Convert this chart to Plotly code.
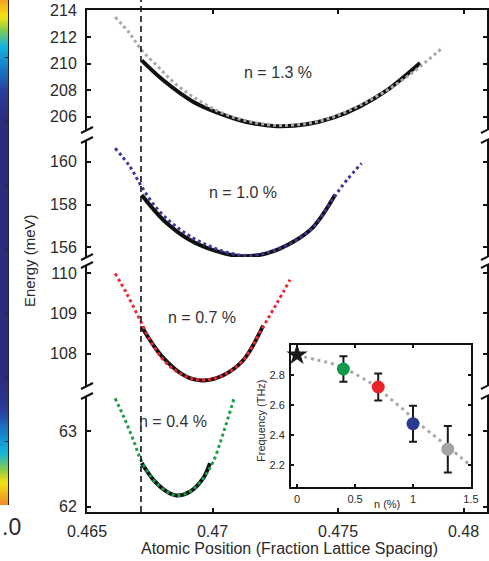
import plotly.graph_objects as go

# ---------------- data ----------------
# n = 1.3 %
x13_fit = [0.46612, 0.46671, 0.46718, 0.46778, 0.46844, 0.46924, 0.47030, 0.47136, 0.47256, 0.47375, 0.47481, 0.47588, 0.47694, 0.47800, 0.47919]
e13_fit = [213.5, 212.25, 211.0, 209.86, 208.61, 207.48, 206.35, 205.68, 205.35, 205.48, 205.98, 206.86, 207.98, 209.36, 211.24]
x13_dft = [0.46718, 0.46804, 0.46924, 0.47030, 0.47136, 0.47256, 0.47375, 0.47481, 0.47588, 0.47694, 0.47827]
e13_dft = [210.24, 208.74, 207.11, 206.23, 205.60, 205.28, 205.43, 205.93, 206.78, 207.98, 210.05]

# n = 1.0 %
x10_fit = [0.46612, 0.46671, 0.46718, 0.46778, 0.46857, 0.46963, 0.47110, 0.47216, 0.47322, 0.47402, 0.47481, 0.47535, 0.47594]
e10_fit = [160.63, 159.77, 158.83, 157.82, 156.96, 156.19, 155.64, 155.75, 156.26, 156.96, 158.29, 159.14, 159.92]
x10_dft = [0.46718, 0.46804, 0.46910, 0.47003, 0.47110, 0.47216, 0.47322, 0.47402, 0.47488]
e10_dft = [158.44, 157.28, 156.34, 155.87, 155.59, 155.72, 156.26, 156.96, 158.44]

# n = 0.7 %
x07_fit = [0.46612, 0.46658, 0.46711, 0.46758, 0.46818, 0.46897, 0.46963, 0.47043, 0.47123, 0.47202, 0.47256, 0.47309]
e07_fit = [110.0, 109.5, 108.84, 108.26, 107.75, 107.42, 107.34, 107.46, 107.84, 108.67, 109.25, 109.84]
x07_dft = [0.46718, 0.46800, 0.46897, 0.46963, 0.47043, 0.47123, 0.47202]
e07_dft = [108.67, 107.92, 107.42, 107.33, 107.46, 107.84, 108.70]

# n = 0.4 %
x04_fit = [0.46612, 0.46651, 0.46684, 0.46718, 0.46764, 0.46818, 0.46857, 0.46910, 0.46963, 0.47003, 0.47043, 0.47086]
e04_fit = [63.44, 63.16, 62.89, 62.60, 62.36, 62.20, 62.15, 62.20, 62.38, 62.60, 62.98, 63.44]
x04_dft = [0.46718, 0.46764, 0.46818, 0.46857, 0.46910, 0.46963, 0.46990]
e04_dft = [62.58, 62.36, 62.20, 62.15, 62.20, 62.38, 62.58]

x_dashed = 0.46715

# inset
n_pts = [0.4, 0.7, 1.0, 1.3]
f_pts = [2.84, 2.72, 2.475, 2.305]
f_err = [0.085, 0.09, 0.12, 0.155]
pt_colors = ["#12994a", "#e8232c", "#2b3a8f", "#a3a3a3"]
n_star = [0.0]
f_star = [2.933]
n_fitcurve = [0.0, 0.17, 0.34, 0.54, 0.69, 0.80, 0.92, 1.03, 1.15, 1.32, 1.49]
f_fitcurve = [2.933, 2.90, 2.867, 2.79, 2.718, 2.645, 2.567, 2.49, 2.415, 2.309, 2.2]

# colour strip fragment at the left edge
strip_pos = [1.0, 0.9, 0.8, 0.7, 0.6, 0.5, 0.4, 0.3, 0.2, 0.1, 0.0, -0.1, -0.2, -0.3, -0.4, -0.5, -0.6, -0.7, -0.8, -0.9, -1.0]
strip_lvl = [1.0, 0.93, 0.81, 0.70, 0.58, 0.5, 0.5, 0.5, 0.5, 0.5, 0.5, 0.5, 0.5, 0.5, 0.5, 0.5, 0.56, 0.70, 0.81, 0.93, 1.0]

# ---------------- figure ----------------
W, H = 487.0, 512.0  # plotting paper size in px (489-2, 561-49)


def px(xp):
    return xp / W


def py(yp):
    return (H - yp) / H


FONT = "Liberation Sans, Arial, sans-serif"
TXT = "#2a2a2a"

fig = go.Figure()

panels = [
    (x13_dft, e13_dft, x13_fit, e13_fit, "#a9a9a9", "x2", "y4"),
    (x10_dft, e10_dft, x10_fit, e10_fit, "#3a3a9a", "x", "y3"),
    (x07_dft, e07_dft, x07_fit, e07_fit, "#ee2630", "x", "y2"),
    (x04_dft, e04_dft, x04_fit, e04_fit, "#1f9e4a", "x", "y"),
]
for xd, ed, xf, ef, col, xa, ya in panels:
    fig.add_trace(go.Scatter(x=xd, y=ed, mode="lines", xaxis=xa, yaxis=ya,
                             line=dict(color="#111111", width=4, shape="spline"),
                             showlegend=False, hoverinfo="skip"))
    fig.add_trace(go.Scatter(x=xf, y=ef, mode="lines", xaxis=xa, yaxis=ya,
                             line=dict(color=col, width=3, shape="spline", dash="3px,3px"),
                             showlegend=False, hoverinfo="skip"))

# inset
fig.add_trace(go.Scatter(x=n_fitcurve, y=f_fitcurve, mode="lines", xaxis="x5", yaxis="y5",
                         line=dict(color="#a9a9a9", width=3, dash="3px,4px", shape="spline"),
                         showlegend=False, hoverinfo="skip"))
fig.add_trace(go.Scatter(x=n_pts, y=f_pts, mode="markers", xaxis="x5", yaxis="y5",
                         error_y=dict(type="data", array=f_err, color="#1a1a1a", thickness=2, width=4),
                         marker=dict(color=pt_colors, size=13, line=dict(width=0)),
                         showlegend=False, hoverinfo="skip"))
fig.add_trace(go.Scatter(x=n_star, y=f_star, mode="markers", xaxis="x5", yaxis="y5",
                         marker=dict(symbol="star", color="#1a1a1a", size=16),
                         showlegend=False, hoverinfo="skip", cliponaxis=False))

# colour strip
fig.add_trace(go.Heatmap(z=[[v] for v in strip_lvl], y=strip_pos, x=[0], xaxis="x6", yaxis="y6",
                         zmin=0.5, zmax=1.0, zsmooth="best", showscale=False, hoverinfo="skip",
                         colorscale=[[0.0, "#2b2b7e"], [0.2, "#2a3d9c"], [0.4, "#1a74c6"],
                                     [0.6, "#14b4e0"], [0.76, "#80cc4c"], [0.88, "#f4e014"],
                                     [1.0, "#f0862a"]]))

ax_common = dict(showline=True, linecolor="#111111", linewidth=2, ticks="inside",
                 tickcolor="#111111", tickwidth=2, ticklen=4, showgrid=False, zeroline=False,
                 automargin=False,
                 tickfont=dict(family=FONT, size=16, color=TXT))
xdom = [px(87), 1.0]
xr = [0.465, 0.480936]

lay = dict(
    width=489, height=561,
    margin=dict(l=0, r=2, t=0, b=49, autoexpand=False),
    paper_bgcolor="white", plot_bgcolor="rgba(0,0,0,0)",
    font=dict(family=FONT, color=TXT),
    xaxis=dict(ax_common, domain=xdom, range=xr, anchor="y",
               tickvals=[0.465, 0.47, 0.475, 0.48], ticktext=["0.465", "0.47", "0.475", "0.48"],
               ticklabelstandoff=4),
    xaxis2=dict(ax_common, domain=xdom, range=xr, anchor="y4", side="top", matches="x",
                tickvals=[0.465, 0.47, 0.475, 0.48], showticklabels=False),
    yaxis=dict(ax_common, domain=[0.0, py(396)], range=[61.93, 63.47], anchor="x",
               mirror="ticks", tickvals=[62, 63], ticklabelstandoff=5),
    yaxis2=dict(ax_common, domain=[py(386), py(265)], range=[107.19, 110.21], anchor="x",
                mirror="ticks", tickvals=[108, 109, 110], ticklabelstandoff=5),
    yaxis3=dict(ax_common, domain=[py(257), py(140)], range=[155.55, 161.01], anchor="x",
                mirror="ticks", tickvals=[156, 158, 160], ticklabelstandoff=5),
    yaxis4=dict(ax_common, domain=[py(130), py(10)], range=[205.0, 214.03], anchor="x2",
                mirror="ticks", tickvals=[206, 208, 210, 212, 214], ticklabelstandoff=5),
    xaxis5=dict(ax_common, domain=[px(291), px(471)], range=[-0.052, 1.5], anchor="y5",
                mirror="ticks", ticklen=3, tickvals=[0, 0.5, 1, 1.5], ticktext=["0", "0.5", "1", "1.5"],
                tickfont=dict(family=FONT, size=11, color=TXT), ticklabelstandoff=1),
    yaxis5=dict(ax_common, domain=[py(487), py(345)], range=[2.053, 3.0], anchor="x5",
                mirror="ticks", ticklen=3, tickvals=[2.2, 2.4, 2.6, 2.8],
                tickfont=dict(family=FONT, size=11, color=TXT), ticklabelstandoff=2),
    xaxis6=dict(domain=[0, px(8)], range=[-0.5, 0.5], anchor="y6", visible=False, automargin=False),
    yaxis6=dict(domain=[py(505), 1.0], range=[-1.0, 0.9727], anchor="x6", side="right",
                showline=True, linecolor="#222222", linewidth=1, ticks="inside", ticklen=3,
                tickcolor="#222222", tickvals=[-0.75, -0.5, -0.25, 0, 0.25, 0.5, 0.75],
                showticklabels=False, showgrid=False, zeroline=False, automargin=False),
)
fig.update_layout(**lay)

# dashed vertical line
shapes = [dict(type="line", xref="x", yref="paper", x0=x_dashed, x1=x_dashed, y0=0, y1=1.0,
               line=dict(color="#111111", width=1.6, dash="6px,4px"))]
# axis break marks
for yb in [130, 140, 257, 265, 386, 396]:
    for xb in [87, 487]:
        shapes.append(dict(type="line", xref="paper", yref="paper",
                           x0=px(xb - 6), y0=py(yb + 3), x1=px(xb + 6), y1=py(yb - 3),
                           line=dict(color="#111111", width=2)))
fig.update_layout(shapes=shapes)

ann = [
    dict(text="n = 1.3 %", x=0.47261, y=209.34, xref="x2", yref="y4"),
    dict(text="n = 1.0 %", x=0.47122, y=158.58, xref="x", yref="y3"),
    dict(text="n = 0.7 %", x=0.46958, y=108.91, xref="x", yref="y2"),
    dict(text="n = 0.4 %", x=0.46843, y=63.13, xref="x", yref="y"),
]
for a in ann:
    a.update(showarrow=False, font=dict(family=FONT, size=16, color="#333333"))
ann += [
    dict(text="Energy (meV)", x=px(29), y=py(261), xref="paper", yref="paper", textangle=-90,
         showarrow=False, font=dict(family=FONT, size=15, color=TXT)),
    dict(text="Atomic Position (Fraction Lattice Spacing)", x=px(289), y=py(548), xref="paper",
         yref="paper", showarrow=False, font=dict(family=FONT, size=16, color=TXT)),
    dict(text="n (%)", x=px(387), y=py(504), xref="paper", yref="paper", showarrow=False,
         font=dict(family=FONT, size=11, color=TXT)),
    dict(text="Frequency (THz)", x=px(261), y=py(421), xref="paper", yref="paper", textangle=-90,
         showarrow=False, font=dict(family=FONT, size=11, color=TXT)),
]
for a in ann:
    a.update(xanchor="center", yanchor="middle")
# visible remainder of a neighbouring panel's colour-bar label
ann.append(dict(text=".0", x=px(0), y=py(527), xref="paper", yref="paper", xanchor="left",
                yanchor="middle", showarrow=False, font=dict(family=FONT, size=23, color=TXT)))
fig.update_layout(annotations=ann)

fig.write_html("out.html")
